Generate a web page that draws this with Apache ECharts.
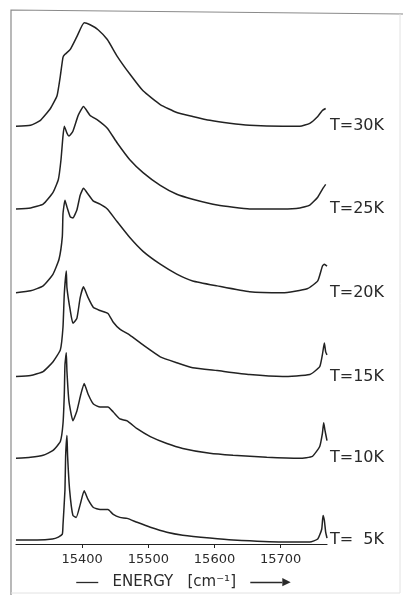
<!DOCTYPE html>
<html>
<head>
<meta charset="utf-8">
<script src="https://cdn.jsdelivr.net/npm/echarts@6/dist/echarts.min.js"></script>
<style>
  html, body { margin: 0; padding: 0; background: #fff; }
  #chart { width: 403px; height: 595px; }
</style>
</head>
<body>
<div id="chart"></div>
<script>
// Emission spectra at several temperatures, [energy (cm^-1), intensity (arb. units)]
const spec30K = [[15300,0],[15322,1],[15337,6],[15352,18],[15362,31],[15367,51],[15371,70],[15374,73],[15382,78],[15392,91],[15403,105],[15412,103],[15424,98],[15438,88],[15453,71],[15472,53],[15492,36],[15518,22],[15543,14],[15567,10],[15593,6],[15623,3],[15653,1],[15703,0],[15729,0],[15744,3],[15756,10],[15763,16],[15768,18]];
const spec25K = [[15300,0],[15322,1],[15341,5],[15356,17],[15364,30],[15368,50],[15371,74],[15373,84],[15377,77],[15380,74],[15386,79],[15394,95],[15402,104],[15412,95],[15424,90],[15438,82],[15453,67],[15472,50],[15492,37],[15518,24],[15543,15],[15567,10],[15604,4],[15653,0],[15703,0],[15729,1],[15744,4],[15756,12],[15763,20],[15768,25]];
const spec20K = [[15300,0],[15322,2],[15341,7],[15356,19],[15365,34],[15370,57],[15371,80],[15374,94],[15377,87],[15382,77],[15386,76],[15392,84],[15397,99],[15402,106],[15409,100],[15417,93],[15427,90],[15438,85],[15453,72],[15472,56],[15492,42],[15518,29],[15543,19],[15567,12],[15604,7],[15653,1],[15703,0],[15740,4],[15756,12],[15763,27],[15766,29],[15770,27]];
const spec15K = [[15300,0],[15322,1],[15341,5],[15356,15],[15367,27],[15371,50],[15373,84],[15376,107],[15377,90],[15382,67],[15386,54],[15392,59],[15397,80],[15402,91],[15409,80],[15417,70],[15427,67],[15439,64],[15447,55],[15457,48],[15472,42],[15492,32],[15518,20],[15543,14],[15567,9],[15604,6],[15653,2],[15703,0],[15744,2],[15759,10],[15763,22],[15766,34],[15768,25],[15770,22]];
const spec10K = [[15300,0],[15322,1],[15341,3],[15356,8],[15367,17],[15371,35],[15373,65],[15374,95],[15376,107],[15377,88],[15380,58],[15386,38],[15392,48],[15398,65],[15403,76],[15409,65],[15417,55],[15427,52],[15439,52],[15447,47],[15457,40],[15468,38],[15483,30],[15503,22],[15528,15],[15552,10],[15593,5],[15628,3],[15679,1],[15729,0],[15748,2],[15759,12],[15763,25],[15765,36],[15767,28],[15770,18]];
const spec5K = [[15300,0],[15332,0],[15355,1],[15364,3],[15370,6],[15371,15],[15374,51],[15375,85],[15377,106],[15378,85],[15381,51],[15386,25],[15391,23],[15397,36],[15403,50],[15409,41],[15417,33],[15427,31],[15439,31],[15447,26],[15457,23],[15468,22],[15483,18],[15503,13],[15528,8],[15552,5],[15593,2],[15628,0],[15703,-2],[15744,-2],[15756,1],[15762,11],[15764,25],[15766,20],[15768,8],[15770,2]];

// Temperature labels and vertical offset of each trace in the stack
const tempLabels = ['T=30K', 'T=25K', 'T=20K', 'T=15K', 'T=10K', 'T=  5K'];
const traceOffsets = [424, 340, 255, 170, 87, 4];
const energyTicks = [15400, 15500, 15600, 15700];

const spectra = [spec30K, spec25K, spec20K, spec15K, spec10K, spec5K];
const X_MIN = 15300, X_MAX = 15770;
const INK = '#222';

const series = spectra.map((spec, i) => ({
  name: tempLabels[i],
  type: 'line',
  data: spec.map(([e, v]) => [e, v + traceOffsets[i]]),
  showSymbol: false,
  smooth: 0.15,
  lineStyle: { color: INK, width: 1.5 },
  silent: true,
  markPoint: {
    symbol: 'circle',
    symbolSize: 0,
    itemStyle: { color: 'transparent' },
    label: {
      show: true,
      position: 'right',
      distance: 3,
      formatter: tempLabels[i],
      color: '#2a2a2a',
      fontSize: 16,
      fontFamily: 'DejaVu Sans'
    },
    data: [{ coord: [X_MAX, traceOffsets[i]] }]
  }
}));

const chart = echarts.init(document.getElementById('chart'), null, { renderer: 'canvas' });
chart.setOption({
  animation: false,
  backgroundColor: '#fff',
  grid: { left: 16, right: 76, top: 10, bottom: 43 },
  xAxis: {
    type: 'value',
    min: X_MIN,
    max: X_MAX,
    interval: 100,
    splitLine: { show: false },
    axisLine: { lineStyle: { color: INK, width: 1.2 } },
    axisTick: { length: 4, lineStyle: { color: INK }, customValues: energyTicks },
    axisLabel: {
      customValues: energyTicks,
      formatter: (v) => String(v),
      margin: 9,
      color: '#2a2a2a',
      fontSize: 13,
      fontFamily: 'DejaVu Sans'
    },
    name: '{ln|}   ENERGY   [cm\u207B\u00B9]   {la|}{hd|\u25B6}',
    nameLocation: 'middle',
    nameGap: 31,
    nameTextStyle: {
      color: '#2a2a2a',
      fontSize: 15,
      fontFamily: 'DejaVu Sans',
      padding: [0, 0, 0, 24],
      rich: {
        ln: { width: 22, height: 1.3, backgroundColor: '#2a2a2a' },
        la: { width: 32, height: 1.3, backgroundColor: '#2a2a2a' },
        hd: { fontSize: 11, color: '#2a2a2a' }
      }
    }
  },
  yAxis: {
    type: 'value',
    min: 0,
    max: 542,
    show: false
  },
  graphic: [
    { type: 'polyline', shape: { points: [[11, 595], [11, 10], [403, 14]] }, style: { stroke: '#8a8a8a', lineWidth: 1.2, fill: null } },
    { type: 'polyline', shape: { points: [[400, 14], [400, 593], [11, 593]] }, style: { stroke: '#e2e2e2', lineWidth: 1, fill: null } }
  ],
  series: series
});
</script>
</body>
</html>
